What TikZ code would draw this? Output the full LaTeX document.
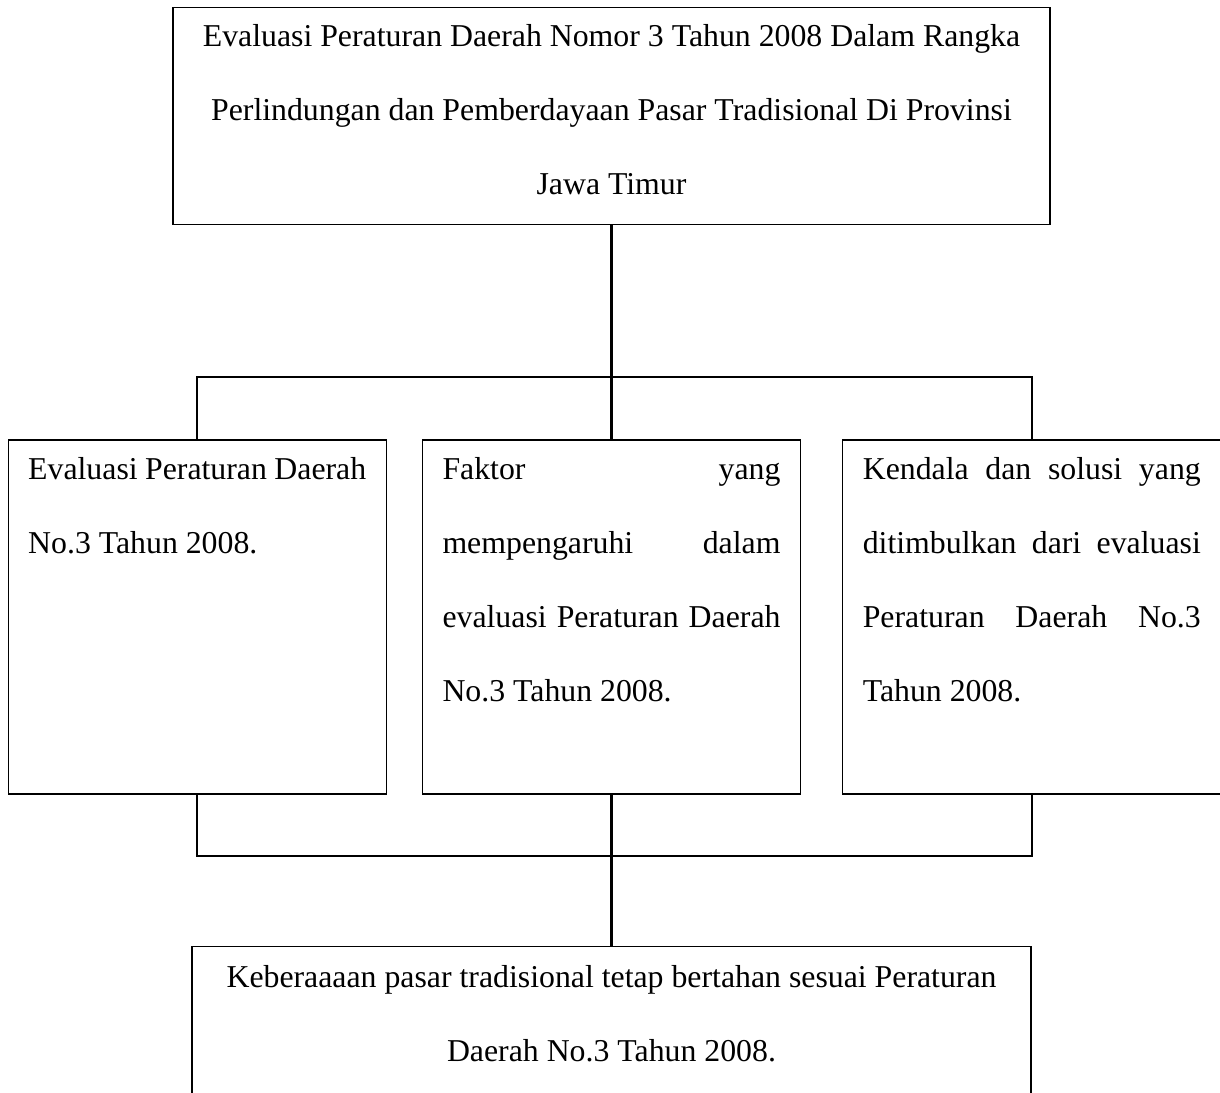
\documentclass[tikz,border=0pt]{standalone}
\usepackage{fontspec}
\setmainfont{Liberation Serif}
\usetikzlibrary{positioning}

\begin{document}
\begin{tikzpicture}[x=0.5pt,y=-0.5pt,
   font=\fontsize{15.9}{37}\selectfont,
   box/.style={draw,line width=0.65pt,inner sep=0pt},
   sbox/.style={box,inner xsep=10pt},
   link/.style={line width=1.15pt}]
  \useasboundingbox (0,0) rectangle (1220,1092);
  \clip (0,0) rectangle (1220,1092);
  \node[box,anchor=north] (judul) at (611.5,7)
       {\parbox[t][108.5pt][t]{438.5pt}{\centering\rule{0pt}{19.4pt}%
        Evaluasi Peraturan Daerah Nomor 3 Tahun 2008 Dalam Rangka\\
        Perlindungan dan Pemberdayaan Pasar Tradisional Di Provinsi\\
        Jawa Timur}};
  \node[sbox,below=107pt of judul] (faktor)
       {\parbox[t][177pt][t]{169pt}{\rule{0pt}{20pt}%
        \makebox[\linewidth][s]{Faktor yang}\\
        \makebox[\linewidth][s]{mempengaruhi dalam}\\
        \makebox[\linewidth][s]{evaluasi Peraturan Daerah}\\
        No.3 Tahun 2008.}};
  \node[sbox,left=17.5pt of faktor] (evaluasi)
       {\parbox[t][177pt][t]{169pt}{\rule{0pt}{20pt}%
        Evaluasi Peraturan Daerah\\
        No.3 Tahun 2008.}};
  \node[sbox,right=20.5pt of faktor] (kendala)
       {\parbox[t][177pt][t]{169pt}{\rule{0pt}{20pt}%
        \makebox[\linewidth][s]{Kendala dan solusi yang}\\
        \makebox[\linewidth][s]{ditimbulkan dari evaluasi}\\
        \makebox[\linewidth][s]{Peraturan Daerah No.3}\\
        Tahun 2008.}};
  \node[box,below=75.5pt of faktor] (hasil)
       {\parbox[t][90pt][t]{419.5pt}{\centering\rule{0pt}{20.5pt}%
        Keberaaaan pasar tradisional tetap bertahan sesuai Peraturan\\
        Daerah No.3 Tahun 2008.}};
  % branch lines
  \coordinate (atas) at (612,377);
  \coordinate (bawah) at (612,856);
  \draw[link] (judul.south) -- (faktor.north);
  \draw[link] (evaluasi.north) -- (evaluasi.north |- atas)
       -- (kendala.north |- atas) -- (kendala.north);
  \draw[link] (evaluasi.south) -- (evaluasi.south |- bawah)
       -- (kendala.south |- bawah) -- (kendala.south);
  \draw[link] (faktor.south) -- (hasil.north);
\end{tikzpicture}
\end{document}
